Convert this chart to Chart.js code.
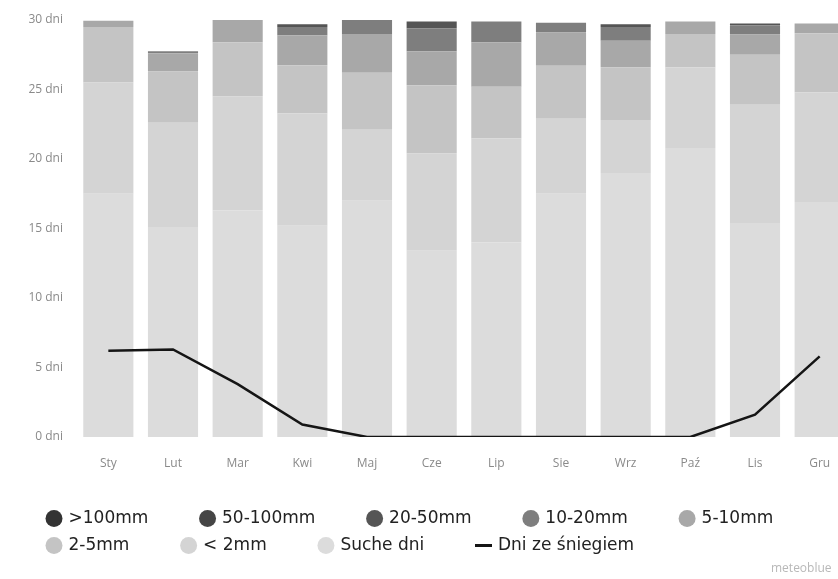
<!DOCTYPE html>
<html lang="pl">
<head>
    <meta charset="UTF-8">
    <title>Opady - dni</title>
    <script src="https://cdn.jsdelivr.net/npm/chart.js"></script>
    <style>
        body { margin: 0; padding: 0; background: #fff; overflow: hidden; }
        #wrap { position: relative; width: 852px; height: 579px; }
        #logo {
            position: absolute; left: 771px; top: 559px;
            font: 12px "Open Sans", sans-serif; color: #b8b8b8;
        }
    </style>
</head>
<body>
<div id="wrap">
    <canvas id="precipChart"></canvas>
</div>
<div id="logo">meteoblue</div>

<script>
    // months and values (days per month)
    const months = ['Sty', 'Lut', 'Mar', 'Kwi', 'Maj', 'Cze', 'Lip', 'Sie', 'Wrz', 'Paź', 'Lis', 'Gru'];

    const dryDays   = [17.5, 15.1, 16.3, 15.2, 17.0, 13.4, 14.0, 17.5, 19.0, 20.8, 15.4, 16.9];
    const under2    = [8.0, 7.5, 8.2, 8.1, 5.1, 7.0, 7.5, 5.4, 3.8, 5.8, 8.5, 7.9];
    const mm2to5    = [4.0, 3.7, 3.9, 3.45, 4.1, 4.9, 3.7, 3.8, 3.8, 2.4, 3.6, 4.25];
    const mm5to10   = [0.45, 1.3, 1.6, 2.15, 2.8, 2.45, 3.2, 2.4, 1.9, 0.9, 1.45, 0.7];
    const mm10to20  = [0, 0.15, 0, 0.6, 1.0, 1.65, 1.5, 0.7, 1.0, 0, 0.65, 0];
    const mm20to50  = [0, 0, 0, 0.2, 0, 0.5, 0, 0, 0.2, 0, 0.15, 0];
    const mm50to100 = [0, 0, 0, 0, 0, 0, 0, 0, 0, 0, 0, 0];
    const over100   = [0, 0, 0, 0, 0, 0, 0, 0, 0, 0, 0, 0];
    const snowDays  = [6.2, 6.3, 3.8, 0.9, 0, 0, 0, 0, 0, 0, 1.6, 5.8];

    const yTicks = [0, 5, 10, 15, 20, 25, 30];

    function bar(label, data, color, order) {
        return {
            type: 'bar',
            label: label,
            data: data,
            backgroundColor: color,
            borderWidth: 0,
            pointStyle: 'circle',
            order: order,
            barPercentage: 0.775,
            categoryPercentage: 1.0
        };
    }

    const gap = '\u00a0'.repeat(8); // space after each legend entry

    // legend starts further right than the plot's left edge
    const legendShift = {
        id: 'legendShift',
        afterLayout(chart) { chart.legend.left += 38; }
    };

    const ctx = document.getElementById('precipChart').getContext('2d');
    const chart = new Chart(ctx, {
        data: {
            labels: months,
            datasets: [
                {
                    type: 'line',
                    label: 'Dni ze śniegiem',
                    data: snowDays,
                    borderColor: '#151515',
                    backgroundColor: '#151515',
                    borderWidth: 2.5,
                    pointRadius: 0,
                    pointStyle: 'line',
                    pointBorderColor: '#151515',
                    pointBorderWidth: 3,
                    tension: 0,
                    order: 0
                },
                bar('Suche dni', dryDays, '#dcdcdc', 1),
                bar('< 2mm', under2, '#d4d4d4', 2),
                bar('2-5mm', mm2to5, '#c4c4c4', 3),
                bar('5-10mm', mm5to10, '#a8a8a8', 4),
                bar('10-20mm', mm10to20, '#7e7e7e', 5),
                bar('20-50mm', mm20to50, '#555555', 6),
                bar('50-100mm', mm50to100, '#454545', 7),
                bar('>100mm', over100, '#333333', 8)
            ]
        },
        options: {
            responsive: true,
            maintainAspectRatio: false,
            animation: false,
            layout: { padding: { left: 0, right: 0, top: 20, bottom: 15 } },
            plugins: {
                tooltip: { enabled: false },
                legend: {
                    position: 'bottom',
                    align: 'start',
                    reverse: true,
                    labels: {
                        usePointStyle: true,
                        boxWidth: 12,
                        boxHeight: 12,
                        padding: 10,
                        color: '#222',
                        font: { family: '"DejaVu Sans", sans-serif', size: 17 },
                        generateLabels: (c) => Chart.defaults.plugins.legend.labels.generateLabels(c)
                            .map(item => Object.assign(item, { text: item.text + gap }))
                    }
                }
            },
            scales: {
                x: {
                    stacked: true,
                    grid: { display: false },
                    border: { display: false },
                    afterFit: (axis) => { axis.height = 63; },
                    ticks: {
                        color: '#8a8a8a',
                        padding: 11,
                        font: { family: '"Open Sans", sans-serif', size: 12 }
                    }
                },
                y: {
                    stacked: true,
                    min: 0,
                    max: 30,
                    grid: { display: false },
                    border: { display: false },
                    afterFit: (axis) => { axis.width = 76; },
                    afterBuildTicks: (axis) => { axis.ticks = yTicks.map(v => ({ value: v })); },
                    ticks: {
                        color: '#8a8a8a',
                        padding: 5,
                        font: { family: '"Open Sans", sans-serif', size: 12 },
                        callback: (v) => v + ' dni'
                    }
                }
            }
        },
        plugins: [legendShift]
    });
</script>
</body>
</html>
